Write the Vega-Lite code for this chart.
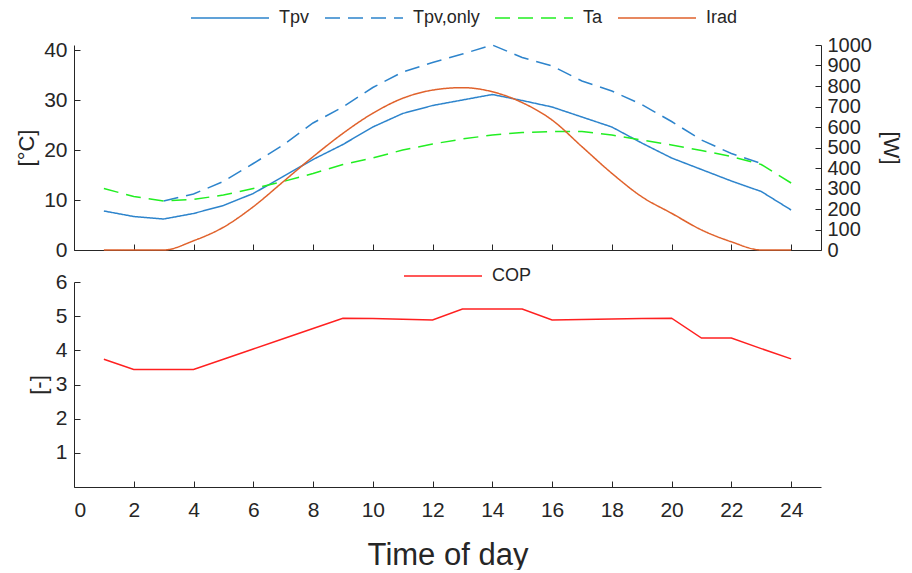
{
  "$schema": "https://vega.github.io/schema/vega-lite/v6.json",
  "padding": {"left": 15, "top": 8, "right": 8, "bottom": 0},
  "background": "white",
  "config": {
    "font": "Liberation Sans",
    "view": {"stroke": null},
    "axis": {
      "grid": false,
      "domainColor": "#262626",
      "tickColor": "#262626",
      "labelColor": "#262626",
      "titleColor": "#262626",
      "labelFont": "Liberation Sans",
      "titleFont": "Liberation Sans",
      "labelFontSize": 21,
      "titleFontSize": 22,
      "titleFontWeight": "normal",
      "tickSize": -6,
      "labelPadding": 13,
      "titlePadding": 5,
      "domainWidth": 1,
      "tickWidth": 1,
      "labelOverlap": false
    },
    "legend": {
      "labelFont": "Liberation Sans",
      "labelFontSize": 18,
      "labelColor": "#262626",
      "symbolType": "stroke",
      "symbolSize": 6084,
      "symbolStrokeWidth": 1.5,
      "labelOffset": 9,
      "columnPadding": 14,
      "padding": 0,
      "clipHeight": 20
    }
  },
  "datasets": {
    "top": [
      {"hour": 1, "series": "Tpv", "value": 7.8}, {"hour": 2, "series": "Tpv", "value": 6.7}, {"hour": 3, "series": "Tpv", "value": 6.2}, {"hour": 4, "series": "Tpv", "value": 7.3},
      {"hour": 5, "series": "Tpv", "value": 8.9}, {"hour": 6, "series": "Tpv", "value": 11.3}, {"hour": 7, "series": "Tpv", "value": 14.7}, {"hour": 8, "series": "Tpv", "value": 18.1},
      {"hour": 9, "series": "Tpv", "value": 21.1}, {"hour": 10, "series": "Tpv", "value": 24.6}, {"hour": 11, "series": "Tpv", "value": 27.3}, {"hour": 12, "series": "Tpv", "value": 28.9},
      {"hour": 13, "series": "Tpv", "value": 30.0}, {"hour": 14, "series": "Tpv", "value": 31.1}, {"hour": 15, "series": "Tpv", "value": 29.9}, {"hour": 16, "series": "Tpv", "value": 28.6},
      {"hour": 17, "series": "Tpv", "value": 26.6}, {"hour": 18, "series": "Tpv", "value": 24.6}, {"hour": 19, "series": "Tpv", "value": 21.4}, {"hour": 20, "series": "Tpv", "value": 18.4},
      {"hour": 21, "series": "Tpv", "value": 16.1}, {"hour": 22, "series": "Tpv", "value": 13.8}, {"hour": 23, "series": "Tpv", "value": 11.7}, {"hour": 24, "series": "Tpv", "value": 8.0},
      {"hour": 3, "series": "Tpv,only", "value": 9.8}, {"hour": 4, "series": "Tpv,only", "value": 11.2}, {"hour": 5, "series": "Tpv,only", "value": 13.7}, {"hour": 6, "series": "Tpv,only", "value": 17.3},
      {"hour": 7, "series": "Tpv,only", "value": 21.0}, {"hour": 8, "series": "Tpv,only", "value": 25.4}, {"hour": 9, "series": "Tpv,only", "value": 28.6}, {"hour": 10, "series": "Tpv,only", "value": 32.5},
      {"hour": 11, "series": "Tpv,only", "value": 35.6}, {"hour": 12, "series": "Tpv,only", "value": 37.5}, {"hour": 13, "series": "Tpv,only", "value": 39.2}, {"hour": 14, "series": "Tpv,only", "value": 41.0},
      {"hour": 15, "series": "Tpv,only", "value": 38.5}, {"hour": 16, "series": "Tpv,only", "value": 36.8}, {"hour": 17, "series": "Tpv,only", "value": 33.8}, {"hour": 18, "series": "Tpv,only", "value": 31.8},
      {"hour": 19, "series": "Tpv,only", "value": 29.1}, {"hour": 20, "series": "Tpv,only", "value": 25.7}, {"hour": 21, "series": "Tpv,only", "value": 22.0}, {"hour": 22, "series": "Tpv,only", "value": 19.3},
      {"hour": 23, "series": "Tpv,only", "value": 17.3},
      {"hour": 1, "series": "Ta", "value": 12.3}, {"hour": 2, "series": "Ta", "value": 10.7}, {"hour": 3, "series": "Ta", "value": 9.8}, {"hour": 4, "series": "Ta", "value": 10.1},
      {"hour": 5, "series": "Ta", "value": 11.0}, {"hour": 6, "series": "Ta", "value": 12.3}, {"hour": 7, "series": "Ta", "value": 13.7}, {"hour": 8, "series": "Ta", "value": 15.3},
      {"hour": 9, "series": "Ta", "value": 17.1}, {"hour": 10, "series": "Ta", "value": 18.4}, {"hour": 11, "series": "Ta", "value": 20.0}, {"hour": 12, "series": "Ta", "value": 21.2},
      {"hour": 13, "series": "Ta", "value": 22.2}, {"hour": 14, "series": "Ta", "value": 23.0}, {"hour": 15, "series": "Ta", "value": 23.5}, {"hour": 16, "series": "Ta", "value": 23.7},
      {"hour": 17, "series": "Ta", "value": 23.7}, {"hour": 18, "series": "Ta", "value": 23.0}, {"hour": 19, "series": "Ta", "value": 22.0}, {"hour": 20, "series": "Ta", "value": 21.0},
      {"hour": 21, "series": "Ta", "value": 19.9}, {"hour": 22, "series": "Ta", "value": 18.7}, {"hour": 23, "series": "Ta", "value": 17.1}, {"hour": 24, "series": "Ta", "value": 13.4},
      {"hour": 1, "series": "Irad", "value": 0}, {"hour": 2, "series": "Irad", "value": 0}, {"hour": 3, "series": "Irad", "value": 0}, {"hour": 4, "series": "Irad", "value": 45},
      {"hour": 5, "series": "Irad", "value": 111}, {"hour": 6, "series": "Irad", "value": 211}, {"hour": 7, "series": "Irad", "value": 333}, {"hour": 8, "series": "Irad", "value": 455},
      {"hour": 9, "series": "Irad", "value": 569}, {"hour": 10, "series": "Irad", "value": 667}, {"hour": 11, "series": "Irad", "value": 740}, {"hour": 12, "series": "Irad", "value": 780},
      {"hour": 13, "series": "Irad", "value": 792}, {"hour": 14, "series": "Irad", "value": 772}, {"hour": 15, "series": "Irad", "value": 719}, {"hour": 16, "series": "Irad", "value": 634},
      {"hour": 17, "series": "Irad", "value": 504}, {"hour": 18, "series": "Irad", "value": 374}, {"hour": 19, "series": "Irad", "value": 260}, {"hour": 20, "series": "Irad", "value": 179},
      {"hour": 21, "series": "Irad", "value": 98}, {"hour": 22, "series": "Irad", "value": 40}, {"hour": 23, "series": "Irad", "value": 0}, {"hour": 24, "series": "Irad", "value": 0}
    ],
    "cop": [
      {"hour": 1, "series": "COP", "cop": 3.74}, {"hour": 2, "series": "COP", "cop": 3.44}, {"hour": 3, "series": "COP", "cop": 3.44}, {"hour": 4, "series": "COP", "cop": 3.44},
      {"hour": 5, "series": "COP", "cop": 3.74}, {"hour": 6, "series": "COP", "cop": 4.04}, {"hour": 7, "series": "COP", "cop": 4.34}, {"hour": 8, "series": "COP", "cop": 4.64},
      {"hour": 9, "series": "COP", "cop": 4.94}, {"hour": 10, "series": "COP", "cop": 4.93}, {"hour": 11, "series": "COP", "cop": 4.91}, {"hour": 12, "series": "COP", "cop": 4.89},
      {"hour": 13, "series": "COP", "cop": 5.21}, {"hour": 14, "series": "COP", "cop": 5.21}, {"hour": 15, "series": "COP", "cop": 5.21}, {"hour": 16, "series": "COP", "cop": 4.89},
      {"hour": 17, "series": "COP", "cop": 4.9}, {"hour": 18, "series": "COP", "cop": 4.92}, {"hour": 19, "series": "COP", "cop": 4.93}, {"hour": 20, "series": "COP", "cop": 4.94},
      {"hour": 21, "series": "COP", "cop": 4.36}, {"hour": 22, "series": "COP", "cop": 4.36}, {"hour": 23, "series": "COP", "cop": 4.05}, {"hour": 24, "series": "COP", "cop": 3.75}
    ]
  },
  "spacing": 32,
  "bounds": "flush",
  "resolve": {"scale": {"color": "independent", "strokeDash": "independent", "x": "independent"}},
  "vconcat": [
    {
      "width": 747,
      "height": 205,
      "data": {"name": "top"},
      "layer": [
        {
          "transform": [{"filter": "datum.series !== 'Irad'"}],
          "mark": {"type": "line", "strokeWidth": 1.5},
          "encoding": {
            "x": {"field": "hour", "type": "quantitative", "scale": {"domain": [0, 25], "nice": false},
                  "axis": {"values": [0, 2, 4, 6, 8, 10, 12, 14, 16, 18, 20, 22, 24], "labels": false, "title": null}},
            "y": {"field": "value", "type": "quantitative", "scale": {"domain": [0, 41], "nice": false},
                  "axis": {"values": [0, 10, 20, 30, 40], "title": "[°C]"}},
            "color": {"field": "series", "type": "nominal",
                      "scale": {"domain": ["Tpv", "Tpv,only", "Ta", "Irad"], "range": ["#2d84cc", "#2d84cc", "#22ee22", "#e0622c"]},
                      "legend": {"title": null, "orient": "none", "direction": "horizontal", "legendX": 116, "legendY": -37}},
            "strokeDash": {"field": "series", "type": "nominal",
                      "scale": {"domain": ["Tpv", "Tpv,only", "Ta", "Irad"], "range": [[1, 0], [15, 8], [15, 8], [1, 0]]},
                      "legend": {"title": null, "orient": "none", "direction": "horizontal", "legendX": 116, "legendY": -37}}
          }
        },
        {
          "transform": [{"filter": "datum.series === 'Irad'"}],
          "mark": {"type": "line", "strokeWidth": 1.5, "interpolate": "monotone"},
          "encoding": {
            "x": {"field": "hour", "type": "quantitative"},
            "y": {"field": "value", "type": "quantitative", "scale": {"domain": [0, 1000], "nice": false},
                  "axis": {"orient": "right", "format": "d", "labelFontSize": 20, "labelOverlap": false, "labelPadding": 12,
                           "values": [0, 100, 200, 300, 400, 500, 600, 700, 800, 900, 1000], "title": "[W]", "titlePadding": 7}},
            "color": {"field": "series", "type": "nominal"},
            "strokeDash": {"field": "series", "type": "nominal"}
          }
        }
      ],
      "resolve": {"scale": {"y": "independent"}}
    },
    {
      "width": 747,
      "height": 205,
      "data": {"name": "cop"},
      "mark": {"type": "line", "strokeWidth": 1.5},
      "encoding": {
        "x": {"field": "hour", "type": "quantitative", "scale": {"domain": [0, 25], "nice": false},
              "axis": {"values": [0, 2, 4, 6, 8, 10, 12, 14, 16, 18, 20, 22, 24], "title": "Time of day", "titleFontSize": 31, "titlePadding": 20, "labelPadding": 18}},
        "y": {"field": "cop", "type": "quantitative", "scale": {"domain": [0, 6], "nice": false},
              "axis": {"values": [1, 2, 3, 4, 5, 6], "title": "[-]"}},
        "color": {"field": "series", "type": "nominal",
                  "scale": {"domain": ["COP"], "range": ["#ff2020"]},
                  "legend": {"title": null, "orient": "none", "legendX": 329, "legendY": -16}}
      }
    }
  ]
}
